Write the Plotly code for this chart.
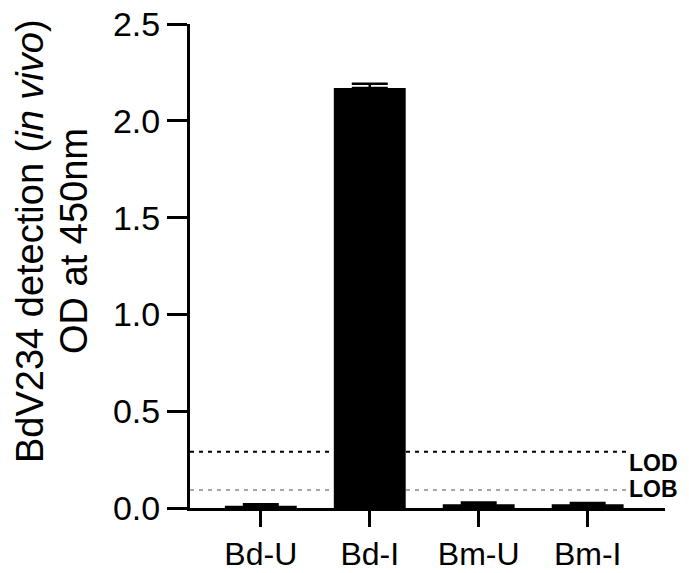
import plotly.graph_objects as go

categories = ["Bd-U", "Bd-I", "Bm-U", "Bm-I"]
od_values = [0.012, 2.17, 0.02, 0.02]
od_errors = [0.008, 0.022, 0.008, 0.006]
lod_value = 0.29
lob_value = 0.093
y_ticks = [0.0, 0.5, 1.0, 1.5, 2.0, 2.5]
y_tick_labels = ["0.0", "0.5", "1.0", "1.5", "2.0", "2.5"]

FONT = "Liberation Sans"
W, H = 689, 573
L, R, T, B = 190, 24, 24, 65

x_idx = list(range(len(categories)))

fig = go.Figure()
fig.add_trace(go.Bar(
    x=x_idx, y=od_values, width=0.66,
    marker=dict(color="black", line=dict(width=0)),
    error_y=dict(type="data", array=od_errors, symmetric=False, arrayminus=[0]*4,
                 color="black", thickness=2.5, width=18),
    showlegend=False,
))

x_lo, x_hi = -0.65, 3.71
line_end = 3.36
fig.add_shape(type="line", xref="x", yref="y", x0=x_lo, x1=line_end, y0=lod_value, y1=lod_value,
              line=dict(color="black", width=2, dash="4px,5px"), layer="below")
fig.add_shape(type="line", xref="x", yref="y", x0=x_lo, x1=line_end, y0=lob_value, y1=lob_value,
              line=dict(color="#a6a6a6", width=2, dash="4px,5px"), layer="below")

fig.add_annotation(x=line_end, y=lod_value, xref="x", yref="y", text="<b>LOD</b>", showarrow=False,
                   xanchor="left", yanchor="middle", yshift=-11, xshift=0,
                   font=dict(family=FONT, size=23, color="black"))
fig.add_annotation(x=line_end, y=lob_value, xref="x", yref="y", text="<b>LOB</b>", showarrow=False,
                   xanchor="left", yanchor="middle", yshift=1, xshift=0,
                   font=dict(family=FONT, size=23, color="black"))

pw = W - L - R
ph = H - T - B
def px_x(px):
    return (px - L) / pw
def px_y(py):
    return 1 - (py - T) / ph

fig.add_annotation(x=px_x(30), y=px_y(241), xref="paper", yref="paper",
                   text="BdV234 detection (<i>in vivo</i>)", textangle=-90, showarrow=False,
                   xanchor="center", yanchor="middle",
                   font=dict(family=FONT, size=38, color="black"))
fig.add_annotation(x=px_x(74), y=px_y(241), xref="paper", yref="paper",
                   text="OD at 450nm", textangle=-90, showarrow=False,
                   xanchor="center", yanchor="middle",
                   font=dict(family=FONT, size=38, color="black"))

fig.update_layout(
    width=W, height=H,
    margin=dict(l=L, r=R, t=T, b=B, pad=0, autoexpand=False),
    plot_bgcolor="white", paper_bgcolor="white",
    bargap=0.34,
    font=dict(family=FONT, color="black"),
    xaxis=dict(
        range=[x_lo, x_hi], tickmode="array", tickvals=x_idx, ticktext=categories,
        showline=True, linecolor="black", linewidth=3,
        ticks="outside", ticklen=16, tickwidth=3, tickcolor="black",
        showgrid=False, zeroline=False, automargin=False,
        tickfont=dict(family=FONT, size=32, color="black"),
    ),
    yaxis=dict(
        range=[0, 2.5], tickmode="array", tickvals=y_ticks, ticktext=y_tick_labels,
        showline=True, linecolor="black", linewidth=3,
        ticks="outside", ticklen=20, tickwidth=3, tickcolor="black",
        showgrid=False, zeroline=False, automargin=False,
        tickfont=dict(family=FONT, size=34, color="black"),
    ),
)

fig.write_html("out.html", config={"displayModeBar": False},
               post_script="document.body.style.margin='0';document.body.style.padding='0';")
